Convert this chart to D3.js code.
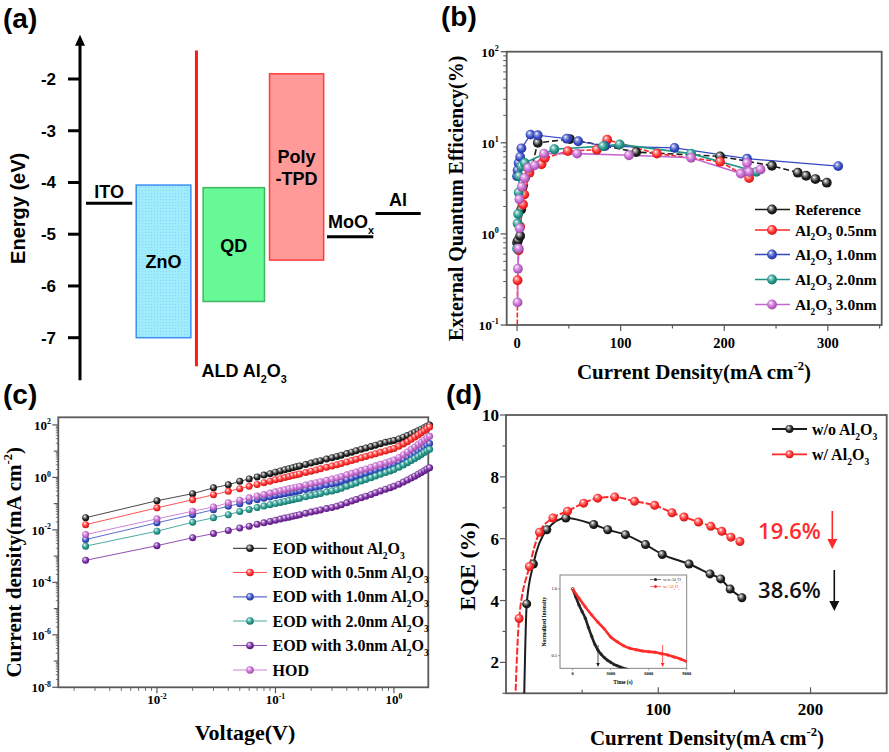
<!DOCTYPE html>
<html><head><meta charset="utf-8">
<script src="https://cdn.jsdelivr.net/npm/d3@7"></script>
<style>body{margin:0;background:#fff;} svg{display:block;}</style>
</head><body>
<svg id="fig" width="889" height="752"></svg>
<script>
// ================= DATA =================
// (a) energy levels (eV)
const layerNames  = ['ITO', 'ZnO', 'QD', 'Poly-TPD', 'MoOx', 'Al'];
const layerUpper  = [-4.4, -4.05, -4.1, -1.9, -5.05, -4.6];
const layerLower  = [-4.4, -7.0, -6.3, -5.5, -5.05, -4.6];
const energyTicks = [-2, -3, -4, -5, -6, -7];

// (b) EQE vs current density
const refX  = [0, 1, 3, 4, 20, 51, 115, 196, 246, 271, 279, 288, 299];
const refY  = [0.8, 0.85, 0.95, 1.85, 10, 11, 7.9, 7.1, 5.6, 4.7, 4.35, 4.0, 3.65];
const a05X  = [0, 0.5, 1.5, 3, 5.8, 7, 12, 23.6, 26.8, 49, 77, 87, 135, 196, 224];
const a05Y  = [0.05, 0.31, 0.66, 1.2, 2.1, 2.7, 4.7, 5.8, 6.8, 8.1, 8.4, 10.8, 7.6, 6.2, 4.1];
const a10X  = [0, 0.5, 1.5, 3, 4.2, 13, 20, 48, 59, 85, 152, 222, 310];
const a10Y  = [4.3, 5.0, 6.0, 7.0, 8.7, 12.3, 12.1, 11.1, 10.4, 9.2, 8.8, 6.7, 5.55];
const a20X  = [0, 0.5, 1, 1.5, 2, 4, 7.4, 36, 83, 99, 168, 231];
const a20Y  = [0.69, 1.3, 1.65, 2.85, 4.3, 5.5, 6.0, 8.5, 9.2, 9.6, 7.6, 4.8];
const a30X  = [0.5, 0.8, 1.5, 2.5, 2.2, 4.5, 7.4, 10.7, 17, 26, 58, 108, 168, 216, 222, 224, 235];
const a30Y  = [0.177, 0.415, 0.69, 1.15, 2.4, 3.3, 4.1, 5.3, 5.65, 7.6, 7.6, 7.3, 6.85, 4.6, 6.0, 4.8, 5.1];
const bXTicks = [0, 100, 200, 300];
const bYTicks = [0.1, 1, 10, 100];

// (c) J-V of single-carrier devices (mA cm^-2)
const voltages = [0.0025, 0.01, 0.02, 0.03, 0.04, 0.05, 0.06, 0.07, 0.08, 0.09, 0.10, 0.11, 0.12, 0.13, 0.14, 0.15, 0.16, 0.18, 0.20, 0.22, 0.24, 0.27, 0.30, 0.33, 0.36, 0.40, 0.44, 0.48, 0.53, 0.58, 0.64, 0.70, 0.77, 0.85, 0.93, 1.0, 1.1, 1.2, 1.3, 1.4, 1.5, 1.6, 1.7, 1.8, 1.9, 2.0];
const jEod0  = [0.029, 0.129, 0.24, 0.40, 0.52, 0.71, 0.87, 1.04, 1.22, 1.39, 1.58, 1.76, 1.95, 2.14, 2.33, 2.52, 2.72, 3.11, 3.52, 3.93, 4.35, 4.98, 5.64, 6.3, 7.05, 8.1, 9.17, 10.3, 11.7, 13.2, 15.0, 16.9, 19.1, 21.7, 23.8, 25.5, 29.2, 33.9, 39.3, 45.3, 52.1, 59.8, 68.7, 78, 88.5, 100];
const jEod05 = [0.0158, 0.069, 0.141, 0.219, 0.295, 0.372, 0.457, 0.54, 0.63, 0.72, 0.81, 0.89, 0.98, 1.08, 1.17, 1.26, 1.36, 1.54, 1.73, 1.92, 2.12, 2.41, 2.72, 3.02, 3.37, 3.86, 4.37, 4.89, 5.55, 6.23, 7.08, 7.96, 8.98, 10.2, 11.5, 12.6, 15.3, 18.8, 23.0, 28.2, 34.7, 41.7, 49.9, 59.7, 71.3, 83.5];
const jEod10 = [0.00427, 0.0186, 0.038, 0.0589, 0.0794, 0.100, 0.123, 0.142, 0.161, 0.180, 0.200, 0.218, 0.237, 0.256, 0.274, 0.292, 0.311, 0.348, 0.384, 0.420, 0.456, 0.509, 0.564, 0.617, 0.700, 0.818, 0.94, 1.07, 1.24, 1.41, 1.64, 1.87, 2.15, 2.48, 2.84, 3.16, 3.85, 4.72, 5.78, 6.97, 8.36, 10.0, 11.9, 14.1, 16.8, 19.4];
const jEod20 = [0.0024, 0.0089, 0.0195, 0.0288, 0.038, 0.050, 0.060, 0.0705, 0.0805, 0.0908, 0.101, 0.111, 0.121, 0.132, 0.142, 0.152, 0.162, 0.183, 0.203, 0.224, 0.244, 0.275, 0.306, 0.339, 0.388, 0.460, 0.535, 0.615, 0.721, 0.832, 0.975, 1.13, 1.31, 1.53, 1.77, 2.0, 2.43, 2.98, 3.65, 4.40, 5.27, 6.31, 7.50, 8.91, 10.3, 11.7];
const jEod30 = [0.00069, 0.0025, 0.0050, 0.0072, 0.0095, 0.0117, 0.0138, 0.0162, 0.0185, 0.0209, 0.0233, 0.0257, 0.0281, 0.0305, 0.0330, 0.0353, 0.0378, 0.0426, 0.0475, 0.0524, 0.0573, 0.0646, 0.0719, 0.0794, 0.0908, 0.107, 0.125, 0.143, 0.167, 0.193, 0.225, 0.260, 0.302, 0.353, 0.406, 0.457, 0.552, 0.664, 0.793, 0.942, 1.11, 1.32, 1.55, 1.79, 2.07, 2.33];
const jHod   = [0.0066, 0.0263, 0.0513, 0.0741, 0.107, 0.135, 0.166, 0.195, 0.223, 0.252, 0.281, 0.309, 0.338, 0.367, 0.396, 0.425, 0.454, 0.512, 0.571, 0.630, 0.689, 0.776, 0.865, 0.955, 1.08, 1.25, 1.43, 1.62, 1.86, 2.11, 2.43, 2.75, 3.14, 3.61, 4.10, 4.57, 5.79, 7.33, 9.29, 11.7, 14.5, 17.9, 21.8, 26.6, 31.4, 36.6];
const cXTicks = [-2, -1, 0];
const cYTicks = [-8, -6, -4, -2, 0, 2];

// (d) EQE roll-off
const dWoX = [11.8, 13.6, 18, 26.8, 39.3, 57.6, 66.8, 78.4, 91.6, 102.6, 120.2, 134, 141, 147.2, 154.9];
const dWoY = [0.5, 3.89, 5.18, 6.29, 6.67, 6.46, 6.29, 6.13, 5.81, 5.49, 5.18, 4.86, 4.70, 4.37, 4.09];
const dWX  = [5.9, 8.6, 15.4, 22, 30.8, 40.4, 51, 60.2, 71.4, 84.4, 97.6, 109, 116.9, 126.4, 134.5, 141.7, 147.7, 153.6];
const dWY  = [0.5, 3.42, 5.10, 6.21, 6.67, 6.89, 7.15, 7.31, 7.35, 7.21, 7.08, 6.84, 6.70, 6.54, 6.40, 6.24, 6.05, 5.91];
const dXTicks = [100, 200];
const dYTicks = [2, 4, 6, 8, 10];
const rollOff = ['19.6%', '38.6%'];
// (d) inset: normalized intensity vs time
const tWo  = [0, 250, 500, 750, 1000, 1250, 1500, 1750, 2000, 2250, 2500, 2750, 3000, 3250, 3500, 3750, 4000, 4250, 4500];
const iWo  = [1.0, 0.94, 0.88, 0.83, 0.78, 0.71, 0.645, 0.585, 0.54, 0.51, 0.485, 0.465, 0.45, 0.435, 0.425, 0.415, 0.405, 0.398, 0.39];
const tW   = [0, 500, 1000, 1500, 2000, 2500, 3000, 3500, 4000, 4500, 5000, 5500, 6000, 6500, 7000, 7500, 8000, 8500, 9000];
const iW   = [1.0, 0.93, 0.865, 0.805, 0.75, 0.70, 0.64, 0.605, 0.575, 0.555, 0.545, 0.535, 0.53, 0.525, 0.515, 0.505, 0.49, 0.475, 0.455];
const insetXTicks = [0, 3000, 6000, 9000];
const insetYTicks = [0.5, 1.0];
const insetArrowT = [2000, 7100];

// ================= STYLE / HELPERS =================
const SERIF = '"Liberation Serif", "Times New Roman", serif';
const SANS = '"Liberation Sans", Arial, sans-serif';
const COL = {black:'#1c1c1c', red:'#ff2727', blue:'#3448c4', teal:'#1f9589', purple:'#74259f', magenta:'#c565cf'};
const FRAME = '#5a5a5a';

const svg = d3.select('#fig');
const defs = svg.append('defs');

function ballGrad(id, color) {
  const g = defs.append('radialGradient').attr('id', id)
    .attr('cx', '45%').attr('cy', '45%').attr('r', '60%').attr('fx', '35%').attr('fy', '30%');
  const isBlack = color === COL.black;
  g.append('stop').attr('offset', '0%').attr('stop-color', '#ffffff');
  g.append('stop').attr('offset', isBlack ? '22%' : '28%').attr('stop-color', isBlack ? '#aaaaaa' : d3.interpolateRgb(color, '#fff')(0.45));
  g.append('stop').attr('offset', '65%').attr('stop-color', color);
  g.append('stop').attr('offset', '100%').attr('stop-color', d3.color(color).darker(0.9).formatHex());
}
Object.entries(COL).forEach(([k, c]) => ballGrad('ball-' + k, c));

function rich(g, x, y, parts, o) {
  const fs = o.size;
  const t = g.append('text').attr('x', x).attr('y', y)
    .attr('font-family', o.family || SERIF).attr('font-weight', o.weight || 'bold')
    .attr('font-size', fs).attr('fill', o.fill || '#000').attr('text-anchor', o.anchor || 'start');
  let cur = 0;
  for (const [s, k] of parts) {
    const off = k === 'sub' ? fs * 0.32 : k === 'sup' ? -fs * 0.42 : 0;
    const ts = t.append('tspan').attr('dy', off - cur).text(s);
    if (k !== 'n') ts.attr('font-size', fs * 0.6);
    cur = off;
  }
  if (o.rotate) t.attr('transform', `rotate(${o.rotate},${x},${y})`);
  return t;
}
function balls(g, pts, r, key) {
  g.selectAll(null).data(pts).join('circle')
    .attr('cx', d => d[0]).attr('cy', d => d[1]).attr('r', r)
    .attr('fill', `url(#ball-${key})`);
}
function panelLabel(x, y, s) {
  svg.append('text').attr('x', x).attr('y', y).attr('font-family', SANS)
    .attr('font-weight', 'bold').attr('font-size', 28).text(s);
}

// ================= (a) ENERGY DIAGRAM =================
(function () {
  const g = svg.append('g');
  const yA = d3.scaleLinear().domain([-2, -7]).range([79, 337.7]);
  const xA = d3.scaleLinear().domain([0, 6]).range([86, 420.7]);
  const slots = [[0, 0.83], [0.9, 1.88], [2.1, 3.2], [3.29, 4.26], [4.32, 5.15], [5.19, 6.0]];
  const aldSlot = 1.98;
  const boxStyle = {
    'ZnO': {fill: '#9fecfd', stroke: '#3d8df5'},
    'QD': {fill: '#68f997', stroke: '#3fb765'},
    'Poly-TPD': {fill: '#ff9a98', stroke: '#ff3b3b'}
  };
  const pat = defs.append('pattern').attr('id', 'dots').attr('width', 3).attr('height', 3).attr('patternUnits', 'userSpaceOnUse');
  pat.append('rect').attr('width', 3).attr('height', 3).attr('fill', '#9fecfd');
  pat.append('rect').attr('x', 1).attr('y', 1).attr('width', 1).attr('height', 1).attr('fill', '#8bd3f0');

  const axX = 80;
  g.append('line').attr('x1', axX).attr('x2', axX).attr('y1', yA(-7.82)).attr('y2', yA(-1.3))
    .attr('stroke', '#000').attr('stroke-width', 3);
  g.append('path').attr('d', `M${axX},${yA(-1.3) - 8} l-5,11 l10,0 z`).attr('fill', '#000');
  energyTicks.forEach(t => {
    g.append('line').attr('x1', axX - 12).attr('x2', axX).attr('y1', yA(t)).attr('y2', yA(t))
      .attr('stroke', '#000').attr('stroke-width', 3);
    g.append('text').attr('x', 56).attr('y', yA(t) + 6).attr('text-anchor', 'end')
      .attr('font-family', SANS).attr('font-weight', 'bold').attr('font-size', 17).text(t);
  });
  g.append('text').attr('transform', `translate(25,${yA(-4.5)}) rotate(-90)`).attr('text-anchor', 'middle')
    .attr('font-family', SANS).attr('font-weight', 'bold').attr('font-size', 20).text('Energy (eV)');

  layerNames.forEach((n, i) => {
    const [s0, s1] = slots[i];
    const x0 = xA(s0), x1 = xA(s1), xm = (x0 + x1) / 2;
    if (layerUpper[i] !== layerLower[i]) {
      const st = boxStyle[n];
      g.append('rect').attr('x', x0).attr('y', yA(layerUpper[i])).attr('width', x1 - x0)
        .attr('height', yA(layerLower[i]) - yA(layerUpper[i]))
        .attr('fill', n === 'ZnO' ? 'url(#dots)' : st.fill).attr('stroke', st.stroke).attr('stroke-width', 1.5);
      const ym = yA((layerUpper[i] + layerLower[i]) / 2);
      if (n === 'Poly-TPD') {
        [['Poly', 89], ['-TPD', 111]].forEach(([s, dy]) =>
          g.append('text').attr('x', xm).attr('y', yA(layerUpper[i]) + dy).attr('text-anchor', 'middle')
            .attr('font-family', SANS).attr('font-weight', 'bold').attr('font-size', 18).text(s));
      } else {
        g.append('text').attr('x', xm).attr('y', ym + 7).attr('text-anchor', 'middle')
          .attr('font-family', SANS).attr('font-weight', 'bold').attr('font-size', 18).text(n);
      }
    } else {
      g.append('line').attr('x1', x0).attr('x2', x1).attr('y1', yA(layerUpper[i])).attr('y2', yA(layerUpper[i]))
        .attr('stroke', '#000').attr('stroke-width', 3);
      if (n === 'MoOx') {
        rich(g, x0 + 1, yA(layerUpper[i]) - 9, [['MoO', 'n'], ['x', 'sub']], {size: 18, family: SANS});
      } else {
        g.append('text').attr('x', xm).attr('y', yA(layerUpper[i]) - (n === 'ITO' ? 5 : 8)).attr('text-anchor', 'middle')
          .attr('font-family', SANS).attr('font-weight', 'bold').attr('font-size', 18).text(n);
      }
    }
  });
  const xa = xA(aldSlot);
  g.append('line').attr('x1', xa).attr('x2', xa).attr('y1', yA(-1.45)).attr('y2', yA(-7.55))
    .attr('stroke', '#ff1a1a').attr('stroke-width', 3);
  rich(g, xa + 5, 377, [['ALD Al', 'n'], ['2', 'sub'], ['O', 'n'], ['3', 'sub']], {size: 18, family: SANS});
})();
panelLabel(3, 28, '(a)');

// ================= (b) EQE vs J (log) =================
(function () {
  const g = svg.append('g');
  const L = 506.7, R = 881.7, T = 51.7, B = 325;
  const x = d3.scaleLinear().domain([-10, 352]).range([L, R]);
  const y = d3.scaleLog().domain([0.1, 100]).range([B, T]);
  defs.append('clipPath').attr('id', 'clipB').append('rect').attr('x', L).attr('y', T).attr('width', R - L).attr('height', B - T);
  bYTicks.forEach((t, i) => {
    g.append('line').attr('x1', L - 6).attr('x2', L).attr('y1', y(t)).attr('y2', y(t)).attr('stroke', FRAME).attr('stroke-width', 1.3);
    rich(g, L - 8, y(t) + 5, [['10', 'n'], [String(Math.round(Math.log10(t))), 'sup']], {size: 13.5, anchor: 'end'});
    if (i < bYTicks.length - 1) for (let m = 2; m <= 9; m++) {
      g.append('line').attr('x1', L - 3.5).attr('x2', L).attr('y1', y(t * m)).attr('y2', y(t * m)).attr('stroke', FRAME).attr('stroke-width', 1);
    }
  });
  d3.range(0, 351, 50).forEach(t => {
    const major = bXTicks.includes(t);
    g.append('line').attr('x1', x(t)).attr('x2', x(t)).attr('y1', B).attr('y2', B + (major ? 6 : 3.5)).attr('stroke', FRAME).attr('stroke-width', 1.2);
  });
  bXTicks.forEach(t => g.append('text').attr('x', x(t)).attr('y', 348).attr('text-anchor', 'middle')
    .attr('font-family', SERIF).attr('font-weight', 'bold').attr('font-size', 14.5).text(t));
  g.append('rect').attr('x', L).attr('y', T).attr('width', R - L).attr('height', B - T)
    .attr('fill', 'none').attr('stroke', FRAME).attr('stroke-width', 1.8);

  const series = [
    {name: 'Reference', xs: refX, ys: refY, key: 'black', dash: '6,3', w: 1.6},
    {name: '0.5', xs: a05X, ys: a05Y, key: 'red', dash: '5,2', w: 1.6},
    {name: '1.0', xs: a10X, ys: a10Y, key: 'blue', dash: null, w: 1.2},
    {name: '2.0', xs: a20X, ys: a20Y, key: 'teal', dash: null, w: 1.6},
    {name: '3.0', xs: a30X, ys: a30Y, key: 'magenta', dash: null, w: 1.6}
  ];
  const pg = g.append('g').attr('clip-path', 'url(#clipB)');
  series.forEach(s => {
    const pts = s.xs.map((v, i) => [x(v), y(Math.max(s.ys[i], 0.01))]);
    pg.append('path').attr('d', d3.line()(pts)).attr('fill', 'none').attr('stroke', COL[s.key])
      .attr('stroke-width', s.w).attr('stroke-dasharray', s.dash);
  });
  series.forEach(s => {
    const pts = s.xs.map((v, i) => [x(v), y(Math.max(s.ys[i], 0.01))]).filter((p, i) => s.ys[i] >= 0.1);
    balls(pg, pts, 4.9, s.key);
  });
  const rows = [209.5, 230, 254.5, 279.5, 304.5];
  series.forEach((s, i) => {
    g.append('line').attr('x1', 755).attr('x2', 790).attr('y1', rows[i]).attr('y2', rows[i])
      .attr('stroke', COL[s.key]).attr('stroke-width', 1.6);
    balls(g, [[772, rows[i]]], 4.9, s.key);
    const parts = i === 0 ? [['Reference', 'n']] : [['Al', 'n'], ['2', 'sub'], ['O', 'n'], ['3', 'sub'], [' ' + s.name + 'nm', 'n']];
    rich(g, 795, rows[i] + 5.5, parts, {size: 15.5});
  });
  rich(g, 463, (T + B) / 2 + 10, [['External Quantum Efficiency(%)', 'n']], {size: 20, anchor: 'middle', rotate: -90});
  rich(g, 694, 379, [['Current Density(mA cm', 'n'], ['-2', 'sup'], [')', 'n']], {size: 21, anchor: 'middle'});
})();
panelLabel(441, 26, '(b)');

// ================= (c) J-V log-log =================
(function () {
  const g = svg.append('g');
  const L = 58.3, R = 428.3, T = 417.3, B = 687.3;
  const x = d3.scaleLog().domain([0.00147, 1.95]).range([L, R]);
  const y = d3.scaleLog().domain([1e-8, Math.pow(10, 2.29)]).range([B, T]);
  for (let e = -8; e <= 2; e++) {
    const major = cYTicks.includes(e);
    g.append('line').attr('x1', L - (major ? 6 : 4.5)).attr('x2', L).attr('y1', y(Math.pow(10, e))).attr('y2', y(Math.pow(10, e)))
      .attr('stroke', FRAME).attr('stroke-width', 1.2);
    for (let m = 2; m <= 9; m++) {
      const v = m * Math.pow(10, e);
      if (y(v) < T) continue;
      g.append('line').attr('x1', L - 2.5).attr('x2', L).attr('y1', y(v)).attr('y2', y(v)).attr('stroke', FRAME).attr('stroke-width', 0.8);
    }
  }
  cYTicks.forEach(e => rich(g, 51, y(Math.pow(10, e)) + 5, [['10', 'n'], [String(e), 'sup']], {size: 13, anchor: 'end'}));
  for (let e = -3; e <= 0; e++) {
    for (let m = 1; m <= 9; m++) {
      const v = m * Math.pow(10, e);
      if (v < 0.00147 || v > 1.95) continue;
      g.append('line').attr('x1', x(v)).attr('x2', x(v)).attr('y1', B).attr('y2', B + (m === 1 ? 6 : 3.5))
        .attr('stroke', FRAME).attr('stroke-width', m === 1 ? 1.2 : 0.9);
    }
  }
  cXTicks.forEach(e => rich(g, x(Math.pow(10, e)), 704, [['10', 'n'], [String(e), 'sup']], {size: 13, anchor: 'middle'}));
  g.append('rect').attr('x', L).attr('y', T).attr('width', R - L).attr('height', B - T)
    .attr('fill', 'none').attr('stroke', FRAME).attr('stroke-width', 1.8);

  const series = [
    {ys: jEod0, key: 'black', label: [['EOD without Al', 'n'], ['2', 'sub'], ['O', 'n'], ['3', 'sub']]},
    {ys: jEod05, key: 'red', label: [['EOD with 0.5nm Al', 'n'], ['2', 'sub'], ['O', 'n'], ['3', 'sub']]},
    {ys: jEod10, key: 'blue', label: [['EOD with 1.0nm Al', 'n'], ['2', 'sub'], ['O', 'n'], ['3', 'sub']]},
    {ys: jEod20, key: 'teal', label: [['EOD with 2.0nm Al', 'n'], ['2', 'sub'], ['O', 'n'], ['3', 'sub']]},
    {ys: jEod30, key: 'purple', label: [['EOD with 3.0nm Al', 'n'], ['2', 'sub'], ['O', 'n'], ['3', 'sub']]},
    {ys: jHod, key: 'magenta', label: [['HOD', 'n']]}
  ];
  series.forEach(s => {
    const pts = voltages.map((v, i) => [x(v), y(s.ys[i])]);
    g.append('path').attr('d', d3.line()(pts)).attr('fill', 'none')
      .attr('stroke', d3.interpolateRgb(COL[s.key], '#fff')(0.2)).attr('stroke-width', 1);
    balls(g, pts, 3.5, s.key);
  });
  const rows = [548.3, 572.5, 596.8, 621, 645.5, 670];
  series.forEach((s, i) => {
    g.append('line').attr('x1', 233).attr('x2', 267).attr('y1', rows[i]).attr('y2', rows[i])
      .attr('stroke', d3.interpolateRgb(COL[s.key], '#fff')(0.2)).attr('stroke-width', 1.2);
    balls(g, [[250, rows[i]]], 3.8, s.key);
    rich(g, 272.5, rows[i] + 5.5, s.label, {size: 16});
  });
  rich(g, 21, (T + B) / 2 + 10, [['Current density(mA cm', 'n'], ['-2', 'sup'], [')', 'n']], {size: 21, anchor: 'middle', rotate: -90});
  rich(g, 245, 740, [['Voltage(V)', 'n']], {size: 22, anchor: 'middle'});
})();
panelLabel(3, 404, '(c)');

// ================= (d) EQE roll-off =================
(function () {
  const g = svg.append('g');
  const L = 506, R = 886.7, T = 415, B = 693.3;
  const x = d3.scaleLinear().domain([0, 250]).range([L, R]);
  const y = d3.scaleLinear().domain([1, 10]).range([B, T]);
  defs.append('clipPath').attr('id', 'clipD').append('rect').attr('x', L).attr('y', T).attr('width', R - L).attr('height', B - T);
  d3.range(1, 10.1, 1).forEach(t => {
    const major = dYTicks.includes(t);
    g.append('line').attr('x1', L - (major ? 6 : 3.5)).attr('x2', L).attr('y1', y(t)).attr('y2', y(t)).attr('stroke', FRAME).attr('stroke-width', 1.2);
  });
  dYTicks.forEach(t => g.append('text').attr('x', 499).attr('y', y(t) + 6).attr('text-anchor', 'end')
    .attr('font-family', SERIF).attr('font-weight', 'bold').attr('font-size', 17).text(t));
  [50, 100, 150, 200].forEach(t => {
    const major = dXTicks.includes(t);
    g.append('line').attr('x1', x(t)).attr('x2', x(t)).attr('y1', B).attr('y2', B - (major ? 6 : 3.5)).attr('stroke', FRAME).attr('stroke-width', 1.2);
  });
  dXTicks.forEach(t => g.append('text').attr('x', x(t)).attr('y', 715).attr('text-anchor', 'middle')
    .attr('font-family', SERIF).attr('font-weight', 'bold').attr('font-size', 17).text(t));
  g.append('rect').attr('x', L).attr('y', T).attr('width', R - L).attr('height', B - T)
    .attr('fill', 'none').attr('stroke', FRAME).attr('stroke-width', 1.8);

  const pg = g.append('g').attr('clip-path', 'url(#clipD)');
  const line = d3.line().curve(d3.curveMonotoneX);
  const sets = [
    {xs: dWoX, ys: dWoY, key: 'black', dash: null},
    {xs: dWX, ys: dWY, key: 'red', dash: '7,2'}
  ];
  sets.forEach(s => {
    const pts = s.xs.map((v, i) => [x(v), y(s.ys[i])]);
    pg.append('path').attr('d', line(pts)).attr('fill', 'none').attr('stroke', COL[s.key])
      .attr('stroke-width', 2).attr('stroke-dasharray', s.dash);
  });
  sets.forEach(s => {
    const pts = s.xs.map((v, i) => [x(v), y(s.ys[i])]).filter((p, i) => s.ys[i] >= 1);
    balls(pg, pts, 4.5, s.key);
  });
  const rows = [429, 454.3];
  const labs = [[['w/o Al', 'n'], ['2', 'sub'], ['O', 'n'], ['3', 'sub']], [['w/ Al', 'n'], ['2', 'sub'], ['O', 'n'], ['3', 'sub']]];
  sets.forEach((s, i) => {
    g.append('line').attr('x1', 772).attr('x2', 807).attr('y1', rows[i]).attr('y2', rows[i])
      .attr('stroke', COL[s.key]).attr('stroke-width', 1.8);
    balls(g, [[789.5, rows[i]]], 4, s.key);
    rich(g, 812, rows[i] + 5.5, labs[i], {size: 16});
  });
  const ann = [{txt: rollOff[0], c: '#ff2a2a', yb: 539, ax: 832.3, a0: 511, a1: 549},
               {txt: rollOff[1], c: '#111', yb: 597.5, ax: 834.3, a0: 570, a1: 611}];
  ann.forEach(a => {
    g.append('text').attr('x', 789.5).attr('y', a.yb).attr('text-anchor', 'middle')
      .attr('font-family', '"Open Sans", sans-serif').attr('font-weight', 600).attr('font-size', 22)
      .attr('fill', a.c).text(a.txt);
    g.append('line').attr('x1', a.ax).attr('x2', a.ax).attr('y1', a.a0).attr('y2', a.a1 - 8).attr('stroke', a.c).attr('stroke-width', 1.6);
    g.append('path').attr('d', `M${a.ax - 5},${a.a1 - 10} L${a.ax + 5},${a.a1 - 10} L${a.ax},${a.a1} Z`).attr('fill', a.c);
  });
  rich(g, 475, (T + B) / 2 + 12, [['EQE (%)', 'n']], {size: 22, anchor: 'middle', rotate: -90});
  rich(g, 707, 745, [['Current Density(mA cm', 'n'], ['-2', 'sup'], [')', 'n']], {size: 21, anchor: 'middle'});

  // ---- inset ----
  const iL = 560, iR = 686.7, iT = 575, iB = 668.3;
  const xi = d3.scaleLinear().domain([-1000, 9000]).range([iL, iR]);
  const yi = d3.scaleLinear().domain([0.405, 1.105]).range([iB, iT]);
  const ig = g.append('g');
  ig.append('rect').attr('x', iL).attr('y', iT).attr('width', iR - iL).attr('height', iB - iT)
    .attr('fill', '#fff').attr('stroke', '#777').attr('stroke-width', 0.9);
  defs.append('clipPath').attr('id', 'clipI').append('rect').attr('x', iL).attr('y', iT).attr('width', iR - iL).attr('height', iB - iT);
  insetXTicks.forEach(t => {
    ig.append('line').attr('x1', xi(t)).attr('x2', xi(t)).attr('y1', iB).attr('y2', iB + 2).attr('stroke', '#777').attr('stroke-width', 0.7);
    ig.append('text').attr('x', xi(t)).attr('y', iB + 7).attr('text-anchor', 'middle').attr('font-family', SERIF)
      .attr('font-size', 4.5).attr('font-weight', 'bold').text(t);
  });
  insetYTicks.forEach(t => {
    ig.append('line').attr('x1', iL - 2).attr('x2', iL).attr('y1', yi(t)).attr('y2', yi(t)).attr('stroke', '#777').attr('stroke-width', 0.7);
    ig.append('text').attr('x', iL - 3).attr('y', yi(t) + 1.5).attr('text-anchor', 'end').attr('font-family', SERIF)
      .attr('font-size', 4.5).text(t.toFixed(1));
  });
  ig.append('text').attr('x', 623).attr('y', 684).attr('text-anchor', 'middle').attr('font-family', SERIF)
    .attr('font-size', 5.5).attr('font-weight', 'bold').text('Time (s)');
  ig.append('text').attr('transform', `translate(546,${(iT + iB) / 2}) rotate(-90)`).attr('text-anchor', 'middle')
    .attr('font-family', SERIF).attr('font-size', 5.5).attr('font-weight', 'bold').text('Normalized Intensity');
  const icg = ig.append('g').attr('clip-path', 'url(#clipI)');
  const isets = [{ts: tWo, vs: iWo, c: '#222'}, {ts: tW, vs: iW, c: '#ff2a2a'}];
  isets.forEach(s => {
    const pts = s.ts.map((t, i) => [xi(t), yi(s.vs[i])]);
    icg.append('path').attr('d', d3.line().curve(d3.curveMonotoneX)(pts)).attr('fill', 'none')
      .attr('stroke', s.c).attr('stroke-width', 2.6);
    icg.selectAll(null).data(pts).join('circle').attr('cx', d => d[0]).attr('cy', d => d[1]).attr('r', 1.4)
      .attr('fill', 'none').attr('stroke', s.c).attr('stroke-width', 0.6);
  });
  insetArrowT.forEach((t, i) => {
    const c = i === 0 ? '#222' : '#ff2a2a';
    icg.append('line').attr('x1', xi(t)).attr('x2', xi(t)).attr('y1', 645).attr('y2', 664).attr('stroke', c).attr('stroke-width', 0.8);
    icg.append('path').attr('d', `M${xi(t) - 1.8},663 L${xi(t) + 1.8},663 L${xi(t)},667 Z`).attr('fill', c);
  });
  const ilab = [[['w/o Al', 'n'], ['2', 'sub'], ['O', 'n'], ['3', 'sub']], [['w/ Al', 'n'], ['2', 'sub'], ['O', 'n'], ['3', 'sub']]];
  [579.5, 586.5].forEach((yy, i) => {
    const c = i === 0 ? '#222' : '#ff2a2a';
    ig.append('line').attr('x1', 650).attr('x2', 661).attr('y1', yy).attr('y2', yy).attr('stroke', c).attr('stroke-width', 0.6);
    ig.append('circle').attr('cx', 655.5).attr('cy', yy).attr('r', 1.5).attr('fill', c);
    rich(ig, 663, yy + 1.6, ilab[i], {size: 4.8, weight: 'normal', fill: c});
  });
})();
panelLabel(446, 404, '(d)');
</script>
</body></html>
